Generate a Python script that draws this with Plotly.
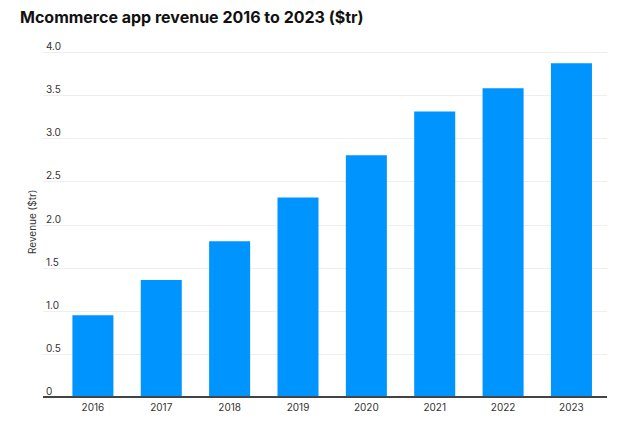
import plotly.graph_objects as go

# ── data ──────────────────────────────────────────────────────────────────────
years = ["2016", "2017", "2018", "2019", "2020", "2021", "2022", "2023"]
revenue = [0.95, 1.36, 1.81, 2.32, 2.81, 3.32, 3.59, 3.88]
y_ticks = [0, 0.5, 1.0, 1.5, 2.0, 2.5, 3.0, 3.5, 4.0]
y_tick_text = ["0", "0.5", "1.0", "1.5", "2.0", "2.5", "3.0", "3.5", "4.0"]

FONT = "Inter, Roboto, sans-serif"
BAR_COLOR = "#0094FF"

# the page body adds an 8px offset, so positions below are compensated
OFF = 8
LEFT, RIGHT, TOP, BASE = 43 - OFF, 607 - OFF, 40 - OFF, 397 - OFF
Y_MIN, Y_MAX = -0.15, 4.15

fig = go.Figure(
    go.Bar(
        x=years,
        y=revenue,
        marker=dict(color=BAR_COLOR, line=dict(width=0)),
        width=0.6,
    )
)

px_per_unit = (BASE - TOP) / 4.15
bottom = BASE + (0 - Y_MIN) * px_per_unit

fig.update_layout(
    width=626,
    height=423,
    paper_bgcolor="white",
    plot_bgcolor="white",
    showlegend=False,
    font=dict(family=FONT, size=10, color="#333333"),
    margin=dict(l=LEFT, r=626 - RIGHT, t=TOP, b=423 - bottom, autoexpand=False),
    title=dict(
        text="<b>Mcommerce app revenue 2016 to 2023 ($tr)</b>",
        font=dict(family=FONT, size=16, color="#111111"),
        x=(20 - OFF) / 626,
        xanchor="left",
        y=1 - (17 - OFF) / 423,
        yanchor="middle",
    ),
    xaxis=dict(
        type="category",
        range=[-0.73, 7.52],
        showgrid=False,
        showline=False,
        ticks="",
        tickfont=dict(family=FONT, size=10, color="#333333"),
        ticklabelstandoff=-10,
        automargin=False,
    ),
    yaxis=dict(
        range=[Y_MIN, Y_MAX],
        tickvals=y_ticks,
        ticktext=y_tick_text,
        showgrid=True,
        gridcolor="#EEEEEE",
        gridwidth=1,
        zeroline=False,
        showline=False,
        ticks="",
        ticklabelposition="inside",
        ticklabelshift=-6,
        tickfont=dict(family=FONT, size=10, color="#333333"),
        automargin=False,
    ),
    shapes=[
        dict(
            type="line",
            xref="paper",
            yref="y",
            x0=0,
            x1=1,
            y0=0,
            y1=0,
            line=dict(color="#444444", width=2),
            layer="above",
        )
    ],
    annotations=[
        dict(
            text="Revenue ($tr)",
            xref="paper",
            yref="paper",
            x=(32 - 43) / (RIGHT - LEFT),
            y=(bottom - (222 - OFF)) / (bottom - TOP),
            xanchor="center",
            yanchor="middle",
            textangle=-90,
            showarrow=False,
            font=dict(family=FONT, size=10, color="#333333"),
        )
    ],
)

fig.write_html("out.html")
